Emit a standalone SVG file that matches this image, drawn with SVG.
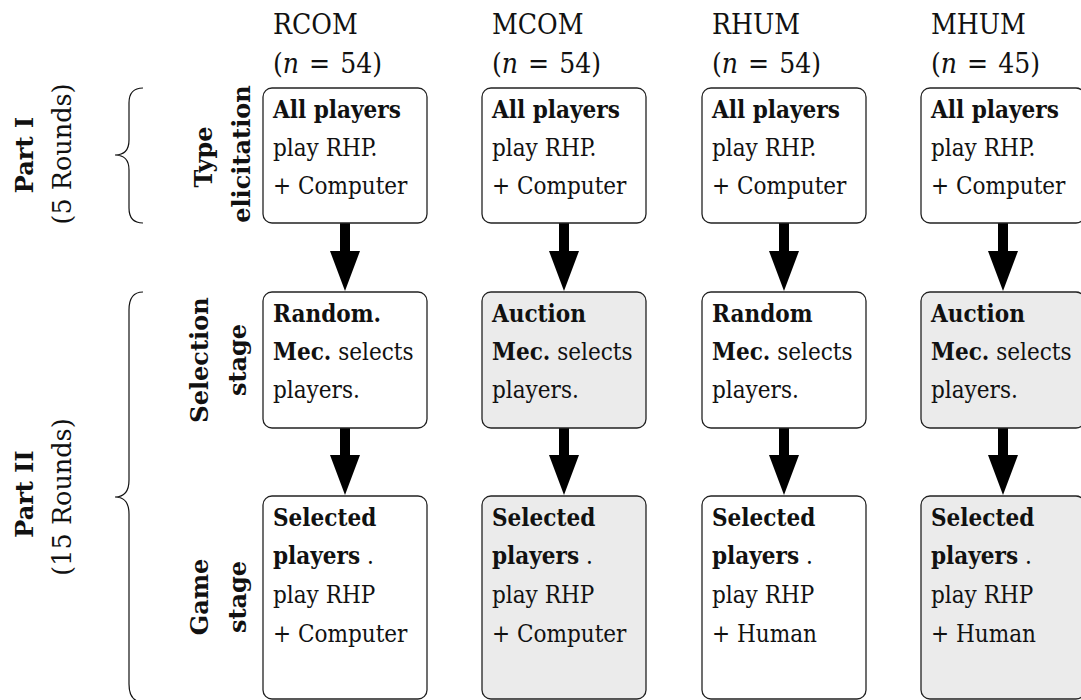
<svg xmlns="http://www.w3.org/2000/svg" width="1081" height="700" viewBox="0 0 1081 700">
<defs>
<style>
text{font-family:"DejaVu Serif Condensed","DejaVu Serif","Liberation Serif",serif;font-stretch:condensed;fill:#111}
.h{font-size:28px}
.t{font-size:24px}
.b{font-weight:bold}
.r{font-family:"DejaVu Serif","Liberation Serif",serif;font-stretch:normal;font-size:24px;text-anchor:middle}
.rr{font-size:25.5px}
.box{fill:#fff;stroke:#222;stroke-width:1.3}
.gray{fill:#ebebeb}
.conn{stroke:#000;stroke-width:10;fill:none}
.brace{fill:none;stroke:#111;stroke-width:1.2}
</style>
<marker id="ah" markerUnits="userSpaceOnUse" markerWidth="40" markerHeight="30" refX="0" refY="15" orient="auto">
<path d="M0,0 L40,15 L0,30 z" fill="#000"/>
</marker>
</defs>
<rect width="1081" height="700" fill="#fff"/>

<g id="labels-left">
<path class="brace" d="M143,88 C133,88 129,93 129,103 L129,140 C129,150 124,155 115,155 C124,155 129,160 129,170 L129,208 C129,218 133,223 143,223"/>
<path class="brace" d="M143,292 C133,292 129,298 129,310 L129,480 C129,491 124,497 115,497 C124,497 129,503 129,514 L129,684 C129,696 133,702 143,702"/>
<text class="r b" transform="translate(33,155) rotate(-90)">Part I</text>
<text class="r rr" transform="translate(71,154) rotate(-90)">(5 Rounds)</text>
<text class="r b" transform="translate(33,494) rotate(-90)">Part II</text>
<text class="r rr" transform="translate(71,497) rotate(-90)">(15 Rounds)</text>
<text class="r b" transform="translate(212,157) rotate(-90)">Type</text>
<text class="r b" transform="translate(250,154) rotate(-90)">elicitation</text>
<text class="r b" transform="translate(208,360) rotate(-90)">Selection</text>
<text class="r b" transform="translate(246,360) rotate(-90)">stage</text>
<text class="r b" transform="translate(208,597) rotate(-90)">Game</text>
<text class="r b" transform="translate(246,597) rotate(-90)">stage</text>
</g>

<g id="headers">
<text class="h" x="273" y="34">RCOM</text>
<text class="h" x="273" y="73">(<tspan font-style="italic">n</tspan> <tspan dx="2">=</tspan> <tspan dx="2">54)</tspan></text>
<text class="h" x="492" y="34">MCOM</text>
<text class="h" x="492" y="73">(<tspan font-style="italic">n</tspan> <tspan dx="2">=</tspan> <tspan dx="2">54)</tspan></text>
<text class="h" x="712" y="34">RHUM</text>
<text class="h" x="712" y="73">(<tspan font-style="italic">n</tspan> <tspan dx="2">=</tspan> <tspan dx="2">54)</tspan></text>
<text class="h" x="931" y="34">MHUM</text>
<text class="h" x="931" y="73">(<tspan font-style="italic">n</tspan> <tspan dx="2">=</tspan> <tspan dx="2">45)</tspan></text>
</g>

<g id="connectors">
<line class="conn" x1="345" y1="223" x2="345" y2="251" marker-end="url(#ah)"/>
<line class="conn" x1="564" y1="223" x2="564" y2="251" marker-end="url(#ah)"/>
<line class="conn" x1="784" y1="223" x2="784" y2="251" marker-end="url(#ah)"/>
<line class="conn" x1="1003" y1="223" x2="1003" y2="251" marker-end="url(#ah)"/>
<line class="conn" x1="345" y1="428" x2="345" y2="455" marker-end="url(#ah)"/>
<line class="conn" x1="564" y1="428" x2="564" y2="455" marker-end="url(#ah)"/>
<line class="conn" x1="784" y1="428" x2="784" y2="455" marker-end="url(#ah)"/>
<line class="conn" x1="1003" y1="428" x2="1003" y2="455" marker-end="url(#ah)"/>
</g>

<g id="rcom-type">
<rect class="box" x="263" y="88" width="164" height="135" rx="9"/>
<text class="t" x="273" y="118"><tspan class="b">All players</tspan></text>
<text class="t" x="273" y="156">play RHP.</text>
<text class="t" x="273" y="194">+ Computer</text>
</g>
<g id="mcom-type">
<rect class="box" x="482" y="88" width="164" height="135" rx="9"/>
<text class="t" x="492" y="118"><tspan class="b">All players</tspan></text>
<text class="t" x="492" y="156">play RHP.</text>
<text class="t" x="492" y="194">+ Computer</text>
</g>
<g id="rhum-type">
<rect class="box" x="702" y="88" width="164" height="135" rx="9"/>
<text class="t" x="712" y="118"><tspan class="b">All players</tspan></text>
<text class="t" x="712" y="156">play RHP.</text>
<text class="t" x="712" y="194">+ Computer</text>
</g>
<g id="mhum-type">
<rect class="box" x="921" y="88" width="164" height="135" rx="9"/>
<text class="t" x="931" y="118"><tspan class="b">All players</tspan></text>
<text class="t" x="931" y="156">play RHP.</text>
<text class="t" x="931" y="194">+ Computer</text>
</g>

<g id="rcom-selection">
<rect class="box" x="263" y="292" width="164" height="136" rx="9"/>
<text class="t b" x="273" y="322">Random.</text>
<text class="t" x="273" y="360"><tspan class="b">Mec.</tspan> selects</text>
<text class="t" x="273" y="398">players.</text>
</g>
<g id="mcom-selection">
<rect class="box gray" x="482" y="292" width="164" height="136" rx="9"/>
<text class="t b" x="492" y="322">Auction</text>
<text class="t" x="492" y="360"><tspan class="b">Mec.</tspan> selects</text>
<text class="t" x="492" y="398">players.</text>
</g>
<g id="rhum-selection">
<rect class="box" x="702" y="292" width="164" height="136" rx="9"/>
<text class="t b" x="712" y="322">Random</text>
<text class="t" x="712" y="360"><tspan class="b">Mec.</tspan> selects</text>
<text class="t" x="712" y="398">players.</text>
</g>
<g id="mhum-selection">
<rect class="box gray" x="921" y="292" width="164" height="136" rx="9"/>
<text class="t b" x="931" y="322">Auction</text>
<text class="t" x="931" y="360"><tspan class="b">Mec.</tspan> selects</text>
<text class="t" x="931" y="398">players.</text>
</g>

<g id="rcom-game">
<rect class="box" x="263" y="496" width="164" height="203" rx="9"/>
<text class="t b" x="273" y="526">Selected</text>
<text class="t" x="273" y="564"><tspan class="b">players</tspan> .</text>
<text class="t" x="273" y="603">play RHP</text>
<text class="t" x="273" y="642">+ Computer</text>
</g>
<g id="mcom-game">
<rect class="box gray" x="482" y="496" width="164" height="203" rx="9"/>
<text class="t b" x="492" y="526">Selected</text>
<text class="t" x="492" y="564"><tspan class="b">players</tspan> .</text>
<text class="t" x="492" y="603">play RHP</text>
<text class="t" x="492" y="642">+ Computer</text>
</g>
<g id="rhum-game">
<rect class="box" x="702" y="496" width="164" height="203" rx="9"/>
<text class="t b" x="712" y="526">Selected</text>
<text class="t" x="712" y="564"><tspan class="b">players</tspan> .</text>
<text class="t" x="712" y="603">play RHP</text>
<text class="t" x="712" y="642">+ Human</text>
</g>
<g id="mhum-game">
<rect class="box gray" x="921" y="496" width="164" height="203" rx="9"/>
<text class="t b" x="931" y="526">Selected</text>
<text class="t" x="931" y="564"><tspan class="b">players</tspan> .</text>
<text class="t" x="931" y="603">play RHP</text>
<text class="t" x="931" y="642">+ Human</text>
</g>
</svg>
